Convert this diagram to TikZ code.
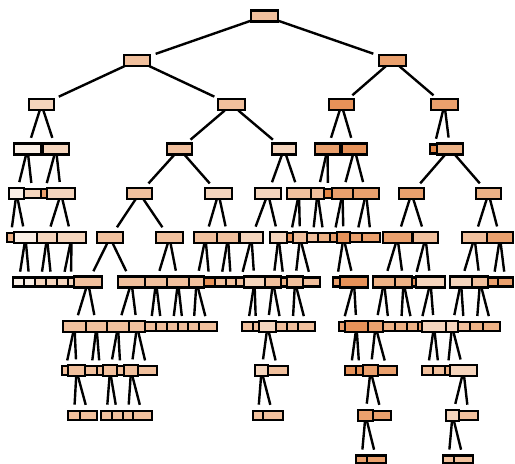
\documentclass[tikz,border=0pt]{standalone}
\definecolor{o1}{HTML}{FAEFE6}
\definecolor{o2}{HTML}{F5D5BD}
\definecolor{o3}{HTML}{F1C09D}
\definecolor{o4}{HTML}{EDB286}
\definecolor{o5}{HTML}{EAA06D}
\definecolor{o6}{HTML}{E79259}
\definecolor{o7}{HTML}{E48746}
\tikzset{
  tbox/.style={draw=black,line width=2.3pt,inner sep=0pt,outer sep=0pt,fill=#1},
  edge/.style={line width=2.4pt,shorten >=6pt,shorten <=0.5pt}
}
\newcommand\tnode[6]{\node[tbox=#5,minimum width={(#3-#2)*1pt},minimum height=#6pt] (#1) at ({(#2+#3)/2},{16+44.35*#4}) {};}
\begin{document}
\begin{tikzpicture}[x=1pt,y=-1pt]
\useasboundingbox (0,0) rectangle (515,464);
% level 0-3
\tnode{r}{251}{278}{0}{o3}{11}
\tnode{a}{124}{150}{1}{o3}{11}
\tnode{b}{379}{406}{1}{o5}{11}
\tnode{aa}{29}{54}{2}{o2}{11}
\tnode{ab}{218}{245}{2}{o3}{11}
\tnode{ba}{329}{354}{2}{o6}{11}
\tnode{bb}{431}{458}{2}{o5}{11}
\tnode{aaa}{14}{41}{3}{o1}{11}
\tnode{aab}{43}{69}{3}{o2}{11}
\tnode{aba}{167}{192}{3}{o3}{11}
\tnode{abb}{272}{296}{3}{o2}{11}
\tnode{baa}{315}{340}{3}{o5}{11}
\tnode{bab}{342}{367}{3}{o6}{11}
\tnode{bba}{430}{437}{3}{o7}{9}
\tnode{bbb}{437}{463}{3}{o4}{11}
% level 4
\tnode{c1}{9}{24}{4}{o1}{11}
\tnode{c2}{24}{41}{4}{o2}{9}
\tnode{c3}{41}{47}{4}{o5}{9}
\tnode{c4}{47}{75}{4}{o2}{11}
\tnode{c5}{127}{152}{4}{o3}{11}
\tnode{c6}{205}{232}{4}{o2}{11}
\tnode{c7}{255}{281}{4}{o2}{11}
\tnode{c8}{287}{311}{4}{o3}{11}
\tnode{c9}{311}{324}{4}{o3}{11}
\tnode{c10}{324}{332}{4}{o7}{9}
\tnode{c11}{332}{353}{4}{o5}{11}
\tnode{c12}{353}{379}{4}{o5}{11}
\tnode{c13}{399}{424}{4}{o5}{11}
\tnode{c14}{476}{501}{4}{o4}{11}
% level 5
\tnode{d1}{7}{14}{5}{o4}{9}
\tnode{d2}{14}{37}{5}{o1}{11}
\tnode{d3}{37}{57}{5}{o2}{11}
\tnode{d4}{57}{86}{5}{o2}{11}
\tnode{d5}{97}{123}{5}{o3}{11}
\tnode{d6}{156}{183}{5}{o3}{11}
\tnode{d7}{194}{217}{5}{o3}{11}
\tnode{d8}{217}{239}{5}{o3}{11}
\tnode{d9}{240}{263}{5}{o2}{11}
\tnode{d10}{270}{287}{5}{o2}{11}
\tnode{d11}{287}{293}{5}{o6}{9}
\tnode{d12}{293}{307}{5}{o3}{11}
\tnode{d13}{307}{318}{5}{o3}{9}
\tnode{d14}{318}{330}{5}{o4}{9}
\tnode{d15}{330}{337}{5}{o5}{9}
\tnode{d16}{337}{350}{5}{o6}{11}
\tnode{d17}{350}{362}{5}{o5}{9}
\tnode{d18}{362}{380}{5}{o5}{9}
\tnode{d19}{383}{412}{5}{o5}{11}
\tnode{d20}{413}{438}{5}{o3}{11}
\tnode{d21}{462}{487}{5}{o3}{11}
\tnode{d22}{487}{513}{5}{o5}{11}
% level 6
\tnode{e1}{13}{24}{6}{o1}{9}
\tnode{e2}{24}{35}{6}{o1}{9}
\tnode{e3}{35}{46}{6}{o2}{9}
\tnode{e4}{46}{57}{6}{o2}{9}
\tnode{e5}{57}{68}{6}{o2}{9}
\tnode{e6}{68}{74}{6}{o2}{9}
\tnode{e7}{74}{102}{6}{o3}{11}
\tnode{e8}{118}{145}{6}{o3}{11}
\tnode{e9}{145}{167}{6}{o3}{11}
\tnode{e10}{167}{189}{6}{o3}{11}
\tnode{e11}{189}{204}{6}{o3}{11}
\tnode{e12}{204}{215}{6}{o6}{9}
\tnode{e13}{215}{226}{6}{o3}{9}
\tnode{e14}{226}{236}{6}{o3}{9}
\tnode{e15}{236}{244}{6}{o3}{9}
\tnode{e16}{244}{265}{6}{o2}{11}
\tnode{e17}{265}{281}{6}{o3}{11}
\tnode{e18}{281}{287}{6}{o4}{9}
\tnode{e19}{287}{303}{6}{o3}{11}
\tnode{e20}{303}{320}{6}{o3}{9}
\tnode{e21}{333}{340}{6}{o5}{9}
\tnode{e22}{340}{368}{6}{o6}{11}
\tnode{e23}{373}{395}{6}{o4}{11}
\tnode{e24}{395}{412}{6}{o4}{11}
\tnode{e25}{412}{416}{6}{o6}{9}
\tnode{e26}{416}{445}{6}{o2}{11}
\tnode{e27}{450}{472}{6}{o2}{11}
\tnode{e28}{472}{488}{6}{o3}{11}
\tnode{e29}{488}{498}{6}{o5}{9}
\tnode{e30}{498}{513}{6}{o5}{9}
% level 7
\tnode{f1}{63}{86}{7}{o3}{11}
\tnode{f2}{86}{107}{7}{o3}{11}
\tnode{f3}{107}{129}{7}{o3}{11}
\tnode{f4}{129}{145}{7}{o3}{11}
\tnode{f5}{145}{156}{7}{o3}{9}
\tnode{f6}{156}{167}{7}{o3}{9}
\tnode{f7}{167}{178}{7}{o3}{9}
\tnode{f8}{178}{188}{7}{o3}{9}
\tnode{f9}{188}{199}{7}{o3}{9}
\tnode{f10}{199}{217}{7}{o3}{9}
\tnode{f11}{242}{253}{7}{o3}{9}
\tnode{f12}{253}{259}{7}{o3}{9}
\tnode{f13}{259}{276}{7}{o2}{11}
\tnode{f14}{276}{287}{7}{o3}{9}
\tnode{f15}{287}{298}{7}{o3}{9}
\tnode{f16}{298}{315}{7}{o3}{9}
\tnode{f17}{339}{345}{7}{o5}{9}
\tnode{f18}{345}{368}{7}{o6}{11}
\tnode{f19}{368}{383}{7}{o5}{11}
\tnode{f20}{383}{395}{7}{o4}{9}
\tnode{f21}{395}{407}{7}{o4}{9}
\tnode{f22}{407}{418}{7}{o4}{9}
\tnode{f23}{418}{422}{7}{o5}{9}
\tnode{f24}{422}{446}{7}{o2}{11}
\tnode{f25}{446}{458}{7}{o2}{11}
\tnode{f26}{458}{470}{7}{o3}{9}
\tnode{f27}{470}{483}{7}{o4}{9}
\tnode{f28}{483}{500}{7}{o4}{9}
% level 8
\tnode{g1}{62}{68}{8}{o3}{9}
\tnode{g2}{68}{85}{8}{o3}{11}
\tnode{g3}{85}{97}{8}{o3}{9}
\tnode{g4}{97}{103}{8}{o3}{9}
\tnode{g5}{103}{117}{8}{o3}{11}
\tnode{g6}{117}{124}{8}{o3}{9}
\tnode{g7}{124}{138}{8}{o3}{11}
\tnode{g8}{138}{157}{8}{o3}{9}
\tnode{g9}{255}{268}{8}{o2}{11}
\tnode{g10}{268}{288}{8}{o3}{9}
\tnode{g11}{345}{356}{8}{o6}{9}
\tnode{g12}{356}{363}{8}{o6}{9}
\tnode{g13}{363}{378}{8}{o5}{11}
\tnode{g14}{378}{397}{8}{o5}{9}
\tnode{g15}{422}{433}{8}{o3}{9}
\tnode{g16}{433}{445}{8}{o3}{9}
\tnode{g17}{445}{450}{8}{o4}{9}
\tnode{g18}{450}{477}{8}{o2}{11}
% level 9
\tnode{h1}{68}{80}{9}{o3}{9}
\tnode{h2}{80}{97}{9}{o3}{9}
\tnode{h3}{101}{112}{9}{o3}{9}
\tnode{h4}{112}{123}{9}{o3}{9}
\tnode{h5}{123}{133}{9}{o3}{9}
\tnode{h6}{133}{152}{9}{o3}{9}
\tnode{h7}{253}{263}{9}{o3}{9}
\tnode{h8}{263}{283}{9}{o3}{9}
\tnode{h9}{358}{373}{9}{o5}{11}
\tnode{h10}{373}{391}{9}{o5}{9}
\tnode{h11}{446}{459}{9}{o2}{11}
\tnode{h12}{459}{478}{9}{o3}{9}
% level 10
\tnode{k1}{356}{367}{10}{o5}{8}
\tnode{k2}{367}{386}{10}{o5}{8}
\tnode{k3}{443}{454}{10}{o3}{8}
\tnode{k4}{454}{473}{10}{o3}{8}
% connectors
\foreach \p/\c in {r/a,r/b,a/aa,a/ab,b/ba,b/bb,
  aa/aaa,aa/aab,ab/aba,ab/abb,ba/baa,ba/bab,bb/bba,bb/bbb,
  aaa/c1,aaa/c2,aab/c3,aab/c4,aba/c5,aba/c6,abb/c7,abb/c8,baa/c9,baa/c10,bab/c11,bab/c12,bbb/c13,bbb/c14,
  c1/d1,c1/d2,c4/d3,c4/d4,c5/d5,c5/d6,c6/d7,c6/d8,c7/d9,c7/d10,c8/d11,c8/d12,c9/d13,c9/d14,c11/d15,c11/d16,c12/d17,c12/d18,c13/d19,c13/d20,c14/d21,c14/d22,
  d2/e1,d2/e2,d3/e3,d3/e4,d4/e5,d4/e6,d5/e7,d5/e8,d6/e9,d6/e10,d7/e11,d7/e12,d8/e13,d8/e14,d9/e15,d9/e16,d10/e17,d10/e18,d12/e19,d12/e20,d16/e21,d16/e22,d19/e23,d19/e24,d20/e25,d20/e26,d21/e27,d21/e28,d22/e29,d22/e30,
  e7/f1,e7/f2,e8/f3,e8/f4,e9/f5,e9/f6,e10/f7,e10/f8,e11/f9,e11/f10,e16/f11,e16/f12,e17/f13,e17/f14,e19/f15,e19/f16,e22/f17,e22/f18,e23/f19,e23/f20,e24/f21,e24/f22,e26/f23,e26/f24,e27/f25,e27/f26,e28/f27,e28/f28,
  f1/g1,f1/g2,f2/g3,f2/g4,f3/g5,f3/g6,f4/g7,f4/g8,f13/g9,f13/g10,f18/g11,f18/g12,f19/g13,f19/g14,f24/g15,f24/g16,f25/g17,f25/g18,
  g2/h1,g2/h2,g5/h3,g5/h4,g7/h5,g7/h6,g9/h7,g9/h8,g13/h9,g13/h10,g18/h11,g18/h12,
  h9/k1,h9/k2,h11/k3,h11/k4}
  \draw[edge] (\p) -- (\c);
\end{tikzpicture}
\end{document}
